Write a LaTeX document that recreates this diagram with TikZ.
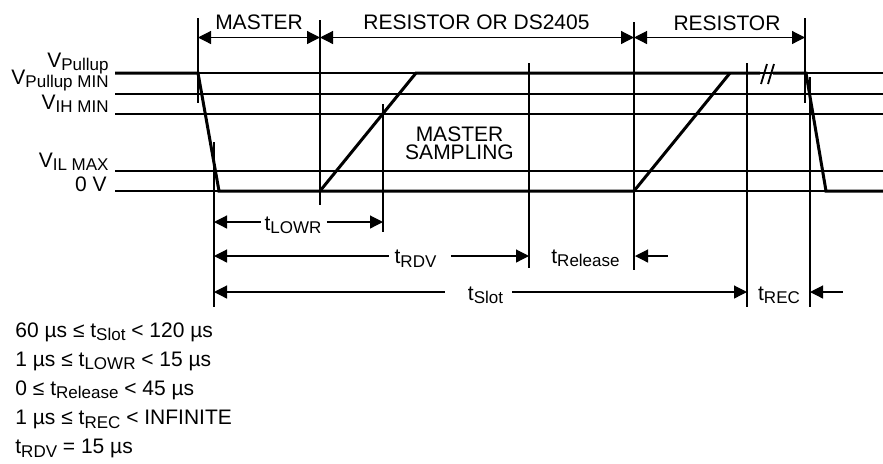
\documentclass[tikz,border=0pt]{standalone}
\usepackage{fontspec}
\setmainfont{Liberation Sans}
\usetikzlibrary{arrows.meta}
\newcommand\lo[1]{\raisebox{-1.9pt}{\fontsize{8.5}{8.5}\selectfont #1}}
\tikzset{
  level/.style={line width=0.6pt,draw=black},
  wave/.style={line width=1.5pt,draw=black,line join=miter},
  tick/.style={line width=0.6pt,draw=black},
  dim/.style={line width=0.6pt,draw=black},
  lbl/.style={font=\fontsize{10.5}{12}\selectfont,inner sep=0pt},
  dlbl/.style={lbl,anchor=base}
}

\begin{document}
\begin{tikzpicture}[x=0.5pt,y=-0.5pt,>={Triangle[length=6.5pt,width=6.5pt]}]
  \useasboundingbox (0,0) rectangle (883,463);
  % voltage levels
  \foreach \y in {73,94,114,171,191}
    \draw[level] (115,\y) -- (883,\y);
  \node[lbl,anchor=base east] (vpu) at (109,67) {V\lo{Pullup}};
  \node[lbl,anchor=base east] (vpumin) at (109,84) {V\lo{Pullup MIN}};
  \node[lbl,anchor=base east] (vih) at (109,109) {V\lo{IH MIN}};
  \node[lbl,anchor=base east] (vil) at (109,167) {V\lo{IL MAX}};
  \node[lbl,anchor=base east] (zero) at (107,191.5) {0 V};
  % waveform
  \draw[wave] (115,73) -- (198,73) -- (219,191) -- (634,191) -- (730,73);
  \draw[wave] (320,191) -- (416,73) -- (760,73);
  \draw[wave] (773,73) -- (806,73) -- (826,191) -- (883,191);
  \draw[line width=0.9pt] (761,84) -- (767,64) (768,84) -- (774,64);
  % ticks
  \draw[tick] (198,18) -- (198,103);
  \draw[tick] (214,142) -- (214,307);
  \draw[tick] (320,20) -- (320,205);
  \draw[tick] (383,104) -- (383,232);
  \draw[tick] (529,63) -- (529,268);
  \draw[tick] (634,22) -- (634,270);
  \draw[tick] (747,63) -- (747,307);
  \draw[tick] (805,18) -- (805,103);
  \draw[tick] (810,77) -- (810,307);
  % who drives the line
  \coordinate (ma) at (198,37.5);
  \coordinate (mb) at (320,37.5);
  \coordinate (rb) at (634,37.5);
  \coordinate (rc) at (805,37.5);
  \draw[dim,<->] (ma) -- (mb);
  \draw[dim,<->] (mb) -- (rb);
  \draw[dim,<->] (rb) -- (rc);
  \node[dlbl] (master) at (259,29) {MASTER};
  \node[dlbl] (resds) at (476.5,29) {RESISTOR OR DS2405};
  \node[dlbl] (resist) at (727,30) {RESISTOR};
  \node[dlbl] (samp1) at (459.5,141) {MASTER};
  \node[dlbl] (samp2) at (459.5,159) {SAMPLING};
  % timing
  \coordinate (lwa) at (214,222);
  \coordinate (lwb) at (383,222);
  \node[dlbl] (lowr) at (293,230) {t\lo{LOWR}};
  \draw[dim,<-] (lwa) -- ([xshift=-1.5pt]lwa -| lowr.west);
  \draw[dim,->] ([xshift=2.5pt]lowr.east |- lwb) -- (lwb);
  \coordinate (rdva) at (214,256);
  \coordinate (rdvb) at (529,256);
  \node[dlbl] (rdv) at (415.5,263.5) {t\lo{RDV}};
  \draw[dim,<-] (rdva) -- ([xshift=-2.5pt]rdva -| rdv.west);
  \draw[dim,->] ([xshift=7pt]rdv.east |- rdvb) -- (rdvb);
  \coordinate (rela) at (635,256);
  \coordinate (relb) at (668,256);
  \node[dlbl] (rel) at (585.5,263) {t\lo{Release}};
  \draw[dim,<-] (rela) -- (relb);
  \coordinate (slta) at (214,292);
  \coordinate (sltb) at (747,292);
  \node[dlbl] (slot) at (485.5,300) {t\lo{Slot}};
  \draw[dim,<-] (slta) -- ([xshift=-11.5pt]slta -| slot.west);
  \draw[dim,->] ([xshift=4.5pt]slot.east |- sltb) -- (sltb);
  \coordinate (reca) at (810,292);
  \coordinate (recb) at (843,292);
  \node[dlbl] (rec) at (779,300) {t\lo{REC}};
  \draw[dim,<-] (reca) -- (recb);
  % limits
  \node[lbl,anchor=base west] (c1) at (15,337) {60 µs ≤ t\lo{Slot} < 120 µs};
  \node[lbl,anchor=base west] (c2) at (15,366) {1 µs ≤ t\lo{LOWR} < 15 µs};
  \node[lbl,anchor=base west] (c3) at (15,395) {0 ≤ t\lo{Release} < 45 µs};
  \node[lbl,anchor=base west] (c4) at (15,424.5) {1 µs ≤ t\lo{REC} < INFINITE};
  \node[lbl,anchor=base west] (c5) at (15,453.5) {t\lo{RDV} = 15 µs};
\end{tikzpicture}
\end{document}
